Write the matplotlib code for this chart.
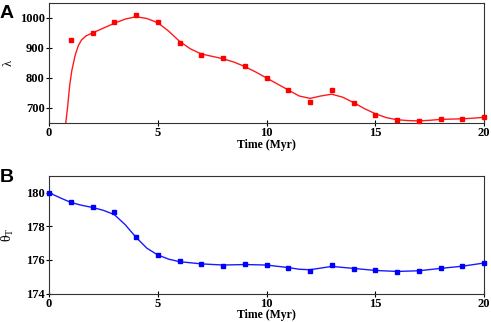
import matplotlib
matplotlib.use("Agg")
import matplotlib.pyplot as plt

# panel A: lambda, data points
time_a = [1, 2, 3, 4, 5, 6, 7, 8, 9, 10, 11, 12, 13, 14, 15, 16, 17, 18, 19, 20]
lam = [928, 950, 987, 1010, 987, 915, 878, 868, 840, 801, 759, 719, 761, 717, 678, 661, 658, 663, 663, 669]
# panel A: fitted curve
fit_a_t = [0.77, 0.85, 0.95, 1.05, 1.2, 1.35, 1.5, 1.7, 2.0, 2.5, 3.0, 3.5, 4.0, 4.5, 5.0,
           5.5, 6.0, 6.5, 7.0, 7.5, 8.0, 8.5, 9.0, 9.5, 10.0, 10.5, 11.0, 11.5, 12.0, 12.5,
           13.0, 13.5, 14.0, 14.5, 15.0, 15.5, 16.0, 16.5, 17.0, 17.5, 18.0, 18.5, 19.0, 19.5, 20.0]
fit_a_v = [650, 700, 775, 825, 875, 908, 927, 940, 950, 966, 982, 996, 1004, 998, 984,
           956, 922, 897, 880, 872, 864, 853, 838, 820, 800, 780, 760, 740, 732, 740,
           746, 736, 718, 698, 681, 668, 661, 658, 657, 659, 662, 663, 664, 666, 669]

# panel B: theta_T, data points
time_b = list(range(0, 21))
theta = [180.0, 179.43, 179.15, 178.86, 177.39, 176.27, 175.92, 175.76, 175.66, 175.74, 175.7,
         175.55, 175.33, 175.68, 175.49, 175.39, 175.31, 175.37, 175.51, 175.62, 175.82]
# panel B: fitted curve
fit_b_t = [0, 0.5, 1, 1.5, 2, 2.5, 3, 3.5, 4, 4.5, 5, 5.5, 6, 7, 8, 9, 10, 11, 11.5, 12,
           12.5, 13, 14, 15, 16, 17, 18, 19, 20]
fit_b_v = [180.0, 179.7, 179.42, 179.25, 179.12, 178.95, 178.7, 178.1, 177.35, 176.7, 176.3,
           176.05, 175.9, 175.77, 175.7, 175.73, 175.7, 175.55, 175.45, 175.42,
           175.52, 175.62, 175.5, 175.38, 175.32, 175.36, 175.5, 175.63, 175.82]

serif = ["Liberation Serif", "DejaVu Serif"]
sans = ["Liberation Sans", "DejaVu Sans"]

fig = plt.figure(figsize=(4.91, 3.22), dpi=100)
ax1 = fig.add_axes([0.0998, 0.618, 0.886, 0.373])
ax2 = fig.add_axes([0.0998, 0.088, 0.886, 0.366])

ax1.plot(fit_a_t, fit_a_v, color="#ff1a1a", lw=1.0, zorder=2)
ax1.plot(time_a, lam, "s", color="#ff0000", ms=3.2, zorder=3, clip_on=False)
ax1.set_ylim(650, 1050)
ax1.set_yticks([700, 800, 900, 1000])
ax1.set_ylabel("λ", fontfamily=serif, fontsize=9)

ax2.plot(fit_b_t, fit_b_v, color="#1a1aff", lw=1.0, zorder=2)
ax2.plot(time_b, theta, "s", color="#0000ff", ms=3.2, zorder=3, clip_on=False)
ax2.set_ylim(174, 181)
ax2.set_yticks([174, 176, 178, 180])
ax2.set_ylabel(r"$\mathregular{\theta_T}$", fontfamily=serif, fontsize=10)

for ax in (ax1, ax2):
    ax.set_xlim(0, 20)
    ax.set_xticks([0, 5, 10, 15, 20])
    ax.tick_params(direction="inout", length=4, width=0.8, pad=1)
    for lab in ax.get_xticklabels() + ax.get_yticklabels():
        lab.set_fontfamily(serif)
        lab.set_fontweight("bold")
        lab.set_fontsize(9)
    ax.set_xlabel("Time (Myr)", fontfamily=serif, fontweight="bold", fontsize=8.5)
    for s in ax.spines.values():
        s.set_linewidth(0.8)
        s.set_color("#333333")

ax1.xaxis.set_label_coords(0.5, -0.135)
ax2.xaxis.set_label_coords(0.5, -0.13)
ax1.yaxis.set_label_coords(-0.08, 0.5)
ax2.yaxis.set_label_coords(-0.075, 0.5)

fig.text(0.0, 0.985, "A", fontfamily=sans, fontweight="bold", fontsize=14, va="top", ha="left")
fig.text(0.0, 0.475, "B", fontfamily=sans, fontweight="bold", fontsize=14, va="top", ha="left")

fig.savefig("out.png", dpi=100)
